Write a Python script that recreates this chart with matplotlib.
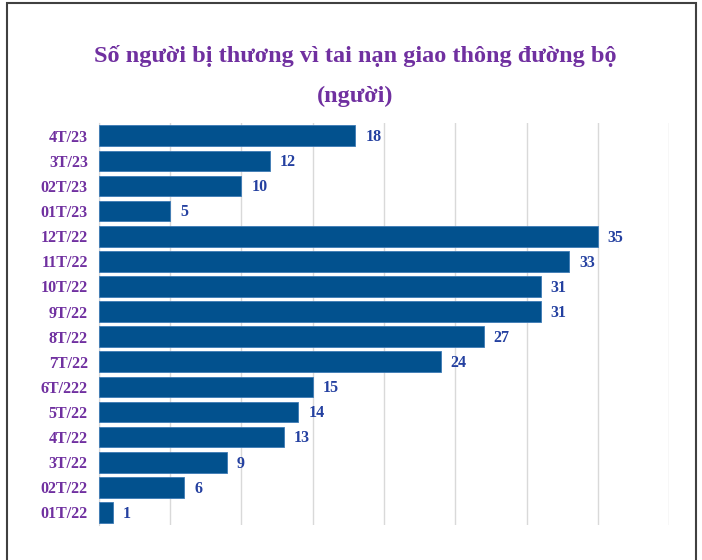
import matplotlib.pyplot as plt
from matplotlib.patches import Rectangle

# Data (top to bottom as shown in the chart)
months = ["4T/23", "3T/23", "02T/23", "01T/23", "12T/22", "11T/22", "10T/22", "9T/22",
          "8T/22", "7T/22", "6T/222", "5T/22", "4T/22", "3T/22", "02T/22", "01T/22"]
injured = [18, 12, 10, 5, 35, 33, 31, 31, 27, 24, 15, 14, 13, 9, 6, 1]

bar_color = "#02518E"
label_color = "#7030A0"
value_color = "#2440A0"
serif = ["Liberation Serif", "DejaVu Serif"]

fig = plt.figure(figsize=(7.02, 5.60), dpi=100)
ax = fig.add_axes([0.141, 0.0625, 0.812, 0.7175])

# plot bottom-up so the first item ends up on top
ypos = list(range(len(months)))[::-1]
bars = ax.barh(ypos, injured, height=0.82, color=bar_color,
               edgecolor="#3C7AB5", linewidth=0.6, zorder=3)

for y, v in zip(ypos, injured):
    ax.annotate(str(v), xy=(v, y), xytext=(7, -1), textcoords="offset points",
                ha="left", va="center", fontsize=11.5, fontweight="bold",
                color=value_color, family=serif)

ax.set_xlim(0, 40)
ax.set_ylim(-0.5, len(months) - 0.5)
ax.set_xticks(range(0, 41, 5))
ax.set_xticklabels([])
ax.tick_params(axis="x", length=0)
ax.set_yticks(ypos)
ax.set_yticklabels(months, fontsize=11.5, fontweight="bold", color=label_color,
                   family=serif)
ax.tick_params(axis="y", length=0, pad=8)
ax.grid(axis="x", color="#D9D9D9", linewidth=1, zorder=0)
for s in ["top", "right", "bottom"]:
    ax.spines[s].set_visible(False)
ax.spines["left"].set_color("#D9D9D9")

fig.text(0.506, 0.90, "Số người bị thương vì tai nạn giao thông đường bộ",
         ha="center", va="center", fontsize=17.5, fontweight="bold",
         color=label_color, family=serif)
fig.text(0.506, 0.828, "(người)", ha="center", va="center", fontsize=17.5,
         fontweight="bold", color=label_color, family=serif)

# outer frame
fig.patches.append(Rectangle((7 / 702, -0.1), (696 - 7) / 702, 1.1 - 3 / 560,
                             transform=fig.transFigure, fill=False,
                             edgecolor="#404040", linewidth=1.5))

plt.savefig("out.png", dpi=100)
